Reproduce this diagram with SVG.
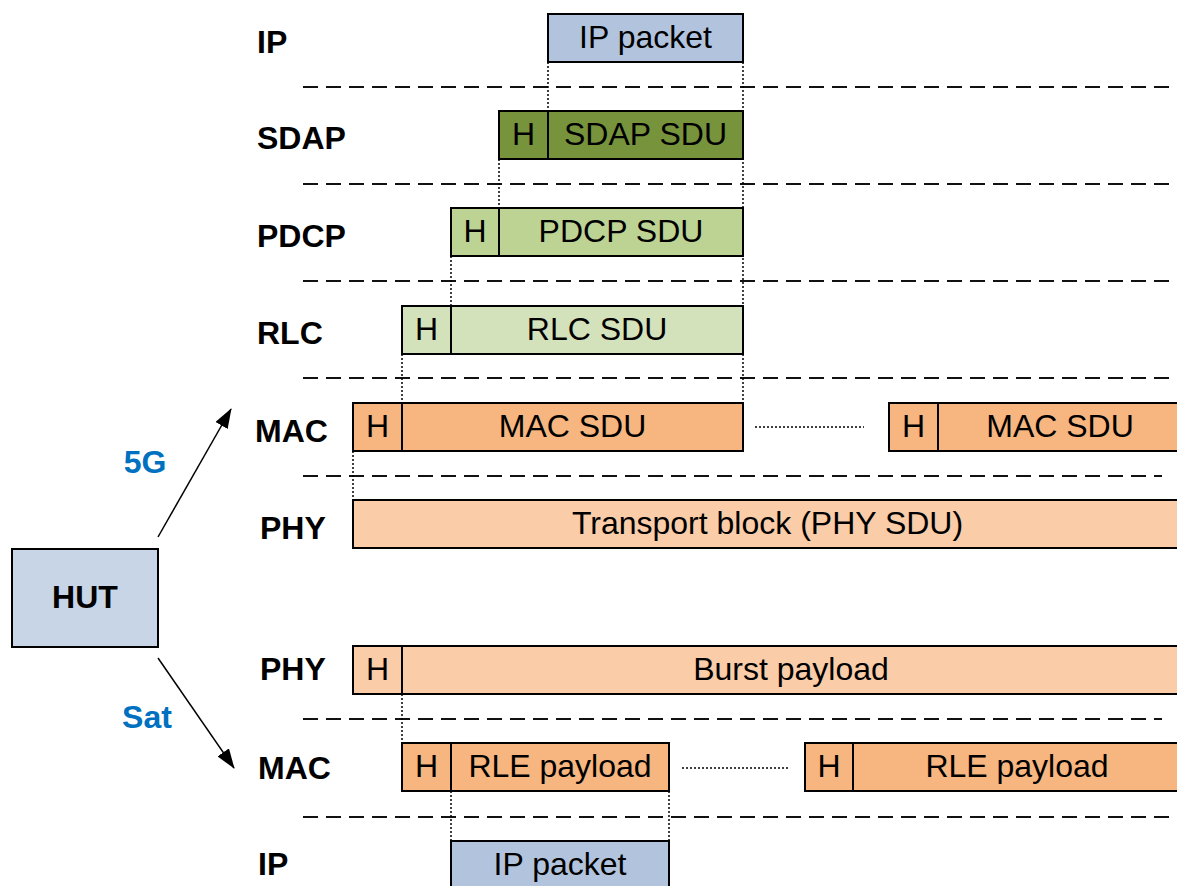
<svg xmlns="http://www.w3.org/2000/svg" width="1177" height="886" viewBox="0 0 1177 886">
<defs>
<style>
.box{stroke:#000;stroke-width:2}
.ip{fill:#B2C4DD}
.hut{fill:#C8D5E6}
.sdap{fill:#77933C}
.pdcp{fill:#BDD394}
.rlc{fill:#D4E2BB}
.mac{fill:#F7B57F}
.phy{fill:#FACCA8}
.t{font-family:"Liberation Sans",Arial,sans-serif;font-size:32px;fill:#000;text-anchor:middle}
.lbl{font-family:"Liberation Sans",Arial,sans-serif;font-size:32px;font-weight:bold;fill:#000}
.blue{font-family:"Liberation Sans",Arial,sans-serif;font-size:32px;font-weight:bold;fill:#0070C0}
.dash{stroke:#111;stroke-width:2.2;stroke-dasharray:15 8;fill:none}
.dot{stroke:#000;stroke-width:1.5;stroke-dasharray:2 2;fill:none}
.arr{stroke:#000;stroke-width:1.5;fill:none}
</style>
<marker id="ah" markerUnits="userSpaceOnUse" markerWidth="20" markerHeight="14" refX="19" refY="7" orient="auto">
<path d="M0,0 L20,7 L0,14 z" fill="#000"/>
</marker>
</defs>
<rect width="1177" height="886" fill="#fff"/>

<g id="separators">
<line class="dash" x1="303" y1="87" x2="1177" y2="87"/>
<line class="dash" x1="303" y1="184" x2="1177" y2="184"/>
<line class="dash" x1="303" y1="281" x2="1177" y2="281"/>
<line class="dash" x1="303" y1="378" x2="1177" y2="378"/>
<line class="dash" x1="303" y1="476" x2="1162" y2="476"/>
<line class="dash" x1="303" y1="719" x2="1162" y2="719"/>
<line class="dash" x1="303" y1="817" x2="1177" y2="817"/>
</g>

<g id="layer-labels">
<text class="lbl" x="257" y="53">IP</text>
<text class="lbl" x="257" y="149">SDAP</text>
<text class="lbl" x="257" y="247">PDCP</text>
<text class="lbl" x="257" y="344">RLC</text>
<text class="lbl" x="255" y="442">MAC</text>
<text class="lbl" x="260" y="539">PHY</text>
<text class="lbl" x="260" y="680">PHY</text>
<text class="lbl" x="258" y="779">MAC</text>
<text class="lbl" x="258" y="875">IP</text>
</g>

<g id="connectors">
<line class="dot" x1="548" y1="62" x2="548" y2="111"/>
<line class="dot" x1="743" y1="62" x2="743" y2="403"/>
<line class="dot" x1="499" y1="159" x2="499" y2="208"/>
<line class="dot" x1="451" y1="256" x2="451" y2="306"/>
<line class="dot" x1="402" y1="354" x2="402" y2="403"/>
<line class="dot" x1="353" y1="451" x2="353" y2="500"/>
<line class="dot" x1="755" y1="427" x2="864" y2="427"/>
<line class="dot" x1="402" y1="694" x2="402" y2="743"/>
<line class="dot" x1="451" y1="791" x2="451" y2="841"/>
<line class="dot" x1="669" y1="791" x2="669" y2="841"/>
<line class="dot" x1="682" y1="768" x2="788" y2="768"/>
<line class="arr" x1="158" y1="537" x2="231" y2="409" marker-end="url(#ah)"/>
<line class="arr" x1="158" y1="658" x2="234" y2="768" marker-end="url(#ah)"/>
</g>

<g id="hut">
<rect class="box hut" x="12" y="549" width="146" height="98"/>
<text class="lbl" x="85" y="608" text-anchor="middle">HUT</text>
</g>
<g id="label-5g"><text class="blue" x="145" y="473" text-anchor="middle">5G</text></g>
<g id="label-sat"><text class="blue" x="147" y="728" text-anchor="middle">Sat</text></g>

<g id="ip-top">
<rect class="box ip" x="548" y="14" width="195" height="48"/>
<text class="t" x="645.5" y="48">IP packet</text>
</g>

<g id="sdap">
<rect class="box sdap" x="499" y="111" width="244" height="48"/>
<line class="box" x1="548" y1="111" x2="548" y2="159"/>
<text class="t" x="523.5" y="145">H</text>
<text class="t" x="645.5" y="145">SDAP SDU</text>
</g>

<g id="pdcp">
<rect class="box pdcp" x="451" y="208" width="292" height="48"/>
<line class="box" x1="499" y1="208" x2="499" y2="256"/>
<text class="t" x="475" y="242">H</text>
<text class="t" x="621" y="242">PDCP SDU</text>
</g>

<g id="rlc">
<rect class="box rlc" x="402" y="306" width="341" height="48"/>
<line class="box" x1="451" y1="306" x2="451" y2="354"/>
<text class="t" x="426.5" y="340">H</text>
<text class="t" x="597" y="340">RLC SDU</text>
</g>

<g id="mac-1">
<rect class="box mac" x="353" y="403" width="390" height="48"/>
<line class="box" x1="402" y1="403" x2="402" y2="451"/>
<text class="t" x="377.5" y="437">H</text>
<text class="t" x="572.5" y="437">MAC SDU</text>
</g>

<g id="mac-2">
<rect class="box mac" x="889" y="403" width="310" height="48"/>
<line class="box" x1="938" y1="403" x2="938" y2="451"/>
<text class="t" x="913.5" y="437">H</text>
<text class="t" x="1060" y="437">MAC SDU</text>
</g>

<g id="phy-5g">
<rect class="box phy" x="353" y="500" width="846" height="48"/>
<text class="t" x="767.5" y="534">Transport block (PHY SDU)</text>
</g>

<g id="phy-sat">
<rect class="box phy" x="353" y="646" width="846" height="48"/>
<line class="box" x1="402" y1="646" x2="402" y2="694"/>
<text class="t" x="377.5" y="680">H</text>
<text class="t" x="791" y="680">Burst payload</text>
</g>

<g id="rle-1">
<rect class="box mac" x="402" y="743" width="267" height="48"/>
<line class="box" x1="451" y1="743" x2="451" y2="791"/>
<text class="t" x="426.5" y="777">H</text>
<text class="t" x="560" y="777">RLE payload</text>
</g>

<g id="rle-2">
<rect class="box mac" x="805" y="743" width="394" height="48"/>
<line class="box" x1="853" y1="743" x2="853" y2="791"/>
<text class="t" x="829" y="777">H</text>
<text class="t" x="1017" y="777">RLE payload</text>
</g>

<g id="ip-bottom">
<rect class="box ip" x="451" y="841" width="218" height="60"/>
<text class="t" x="560" y="875">IP packet</text>
</g>
</svg>
